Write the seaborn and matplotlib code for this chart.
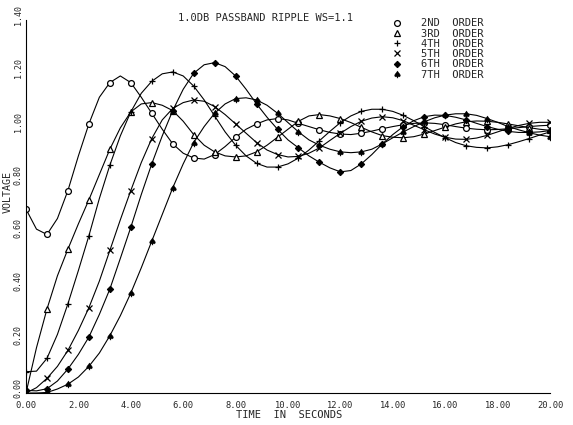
import numpy as np
import pandas as pd
import matplotlib
matplotlib.use("Agg")
import matplotlib.pyplot as plt
import matplotlib.transforms as mtransforms
from matplotlib.lines import Line2D
import seaborn as sns

# ---------------- data ----------------
time_s = [round(0.4 * i, 1) for i in range(51)]  # 0.0 ... 20.0

order2 = [0.69, 0.615, 0.595, 0.655, 0.76, 0.89, 1.01, 1.11, 1.165, 1.19,
          1.165, 1.11, 1.05, 0.99, 0.935, 0.9, 0.882, 0.878, 0.895, 0.925,
          0.96, 0.99, 1.01, 1.025, 1.03, 1.025, 1.012, 1.0, 0.988, 0.978,
          0.972, 0.97, 0.975, 0.983, 0.992, 1.0, 1.007, 1.012, 1.014, 1.012,
          1.007, 1.0, 0.994, 0.99, 0.988, 0.989, 0.992, 0.996, 1.0, 1.003, 1.005]

order3 = [0.0, 0.17, 0.315, 0.44, 0.54, 0.635, 0.725, 0.82, 0.915, 0.995,
          1.055, 1.085, 1.09, 1.08, 1.06, 1.02, 0.97, 0.93, 0.905, 0.89,
          0.886, 0.89, 0.905, 0.93, 0.96, 0.99, 1.02, 1.04, 1.045, 1.04,
          1.03, 1.015, 0.997, 0.98, 0.966, 0.96, 0.958, 0.962, 0.972, 0.985,
          0.998, 1.01, 1.018, 1.021, 1.02, 1.016, 1.01, 1.003, 0.996, 0.99, 0.986]

order4 = [0.08, 0.082, 0.13, 0.22, 0.335, 0.46, 0.59, 0.73, 0.855, 0.965,
          1.055, 1.125, 1.17, 1.198, 1.205, 1.19, 1.152, 1.1, 1.04, 0.98,
          0.93, 0.89, 0.862, 0.848, 0.848, 0.86, 0.882, 0.912, 0.947, 0.982,
          1.015, 1.04, 1.057, 1.065, 1.065, 1.057, 1.042, 1.022, 1.0, 0.978,
          0.958, 0.94, 0.928, 0.922, 0.92, 0.924, 0.932, 0.943, 0.955, 0.968, 0.98]

order5 = [0.0, 0.02, 0.055, 0.1, 0.16, 0.235, 0.32, 0.42, 0.535, 0.65,
          0.76, 0.865, 0.955, 1.025, 1.068, 1.09, 1.1, 1.095, 1.075, 1.045,
          1.01, 0.975, 0.94, 0.912, 0.895, 0.886, 0.888, 0.9, 0.92, 0.948,
          0.975, 1.0, 1.02, 1.032, 1.037, 1.033, 1.022, 1.005, 0.988, 0.972,
          0.96, 0.953, 0.952, 0.957, 0.967, 0.98, 0.993, 1.004, 1.012, 1.016, 1.016]

order6 = [0.01, 0.008, 0.016, 0.045, 0.09, 0.145, 0.21, 0.295, 0.39, 0.505,
          0.622, 0.745, 0.86, 0.965, 1.06, 1.14, 1.2, 1.232, 1.24, 1.225,
          1.19, 1.14, 1.085, 1.035, 0.99, 0.95, 0.92, 0.89, 0.866, 0.845,
          0.83, 0.835, 0.86, 0.895, 0.935, 0.97, 1.0, 1.022, 1.037, 1.043,
          1.042, 1.035, 1.025, 1.012, 1.0, 0.99, 0.982, 0.978, 0.978, 0.98, 0.985]

order7 = [0.0, 0.0, 0.002, 0.015, 0.033, 0.06, 0.1, 0.15, 0.215, 0.29,
          0.375, 0.47, 0.57, 0.67, 0.77, 0.86, 0.94, 1.0, 1.05, 1.085,
          1.105, 1.108, 1.1, 1.08, 1.05, 1.015, 0.98, 0.95, 0.93, 0.915,
          0.905, 0.902, 0.905, 0.915, 0.935, 0.958, 0.98, 1.0, 1.018, 1.033,
          1.043, 1.048, 1.048, 1.042, 1.03, 1.016, 1.0, 0.988, 0.977, 0.968, 0.962]

series_names = ["2ND  ORDER", "3RD  ORDER", "4TH  ORDER",
                "5TH  ORDER", "6TH  ORDER", "7TH  ORDER"]
series_values = [order2, order3, order4, order5, order6, order7]

x_ticks = [0, 2, 4, 6, 8, 10, 12, 14, 16, 18, 20]
x_tick_labels = ["0.00", "2.00", "4.00", "6.00", "8.00", "10.00",
                 "12.00", "14.00", "16.00", "18.00", "20.00"]
y_ticks = [0.0, 0.2, 0.4, 0.6, 0.8, 1.0, 1.2, 1.4]
y_tick_labels = ["0.00", "0.20", "0.40", "0.60", "0.80", "1.00", "1.20", "1.40"]

title_text = "1.0DB PASSBAND RIPPLE WS=1.1"
x_label = "TIME  IN  SECONDS"
y_label = "VOLTAGE"

# ---------------- style ----------------
sns.set_style("white")
plt.rcParams["font.family"] = ["DejaVu Sans Mono", "DejaVu Sans"]

marker_styles = [
    dict(marker="o", markersize=4.2, markerfacecolor="white", markeredgewidth=0.9),
    dict(marker="^", markersize=4.0, markerfacecolor="white", markeredgewidth=0.9),
    dict(marker="+", markersize=5.0, markeredgewidth=0.9),
    dict(marker="x", markersize=4.0, markeredgewidth=0.9),
    dict(marker="D", markersize=3.2, markerfacecolor="black", markeredgewidth=0.8),
    dict(marker=r"$\spadesuit$", markersize=5.0, markeredgewidth=0.3),
]

fig = plt.figure(figsize=(5.73, 4.25), dpi=100)
ax = fig.add_axes([26 / 573, 1 - 393 / 425, 524 / 573, 373 / 425])

df = pd.DataFrame({"t": time_s})
for name, vals in zip(series_names, series_values):
    df[name] = vals

for name, ms in zip(series_names, marker_styles):
    sns.lineplot(data=df, x="t", y=name, ax=ax, color="black", linewidth=0.8,
                 markevery=2, markeredgecolor="black", **ms)

ax.set_xlim(0, 20)
ax.set_ylim(0, 1.4)
ax.set_xticks(x_ticks)
ax.set_xticklabels(x_tick_labels, fontsize=6.3)
ax.set_yticks(y_ticks)
ax.set_yticklabels(y_tick_labels, fontsize=6.0, rotation=90, va="center")
ax.tick_params(axis="both", direction="inout", length=3, width=0.8,
               color="black")
ax.tick_params(axis="x", pad=4)
ax.tick_params(axis="y", pad=1.0)
# y tick labels sit a little above their ticks in the reference
shift = mtransforms.ScaledTranslation(0, 5 / 100, fig.dpi_scale_trans)
for lab in ax.get_yticklabels():
    lab.set_transform(lab.get_transform() + shift)

for side in ["top", "right"]:
    ax.spines[side].set_visible(False)
for side in ["left", "bottom"]:
    ax.spines[side].set_color("black")
    ax.spines[side].set_linewidth(0.8)

ax.set_xlabel("")
ax.set_ylabel(y_label, fontsize=7.2, va="center")
ax.yaxis.set_label_coords(-0.0345, 0.54)
fig.text(289 / 573, 1 - 415 / 425, x_label, fontsize=7.5,
         ha="center", va="center")
fig.text(265 / 573, 1 - 18 / 425, title_text, fontsize=7.5,
         ha="center", va="center")

handles = [Line2D([], [], color="black", linestyle="none",
                  markeredgecolor="black", **ms) for ms in marker_styles]
leg = ax.legend(handles, series_names, loc="upper left",
                bbox_to_anchor=(388 / 573, 1 - 13 / 425),
                bbox_transform=fig.transFigure, frameon=False,
                handlelength=0.8, handletextpad=1.9, labelspacing=0.03,
                borderpad=0, prop={"family": "DejaVu Sans Mono", "size": 7.5})

fig.savefig("out.png", dpi=100, facecolor="white")
